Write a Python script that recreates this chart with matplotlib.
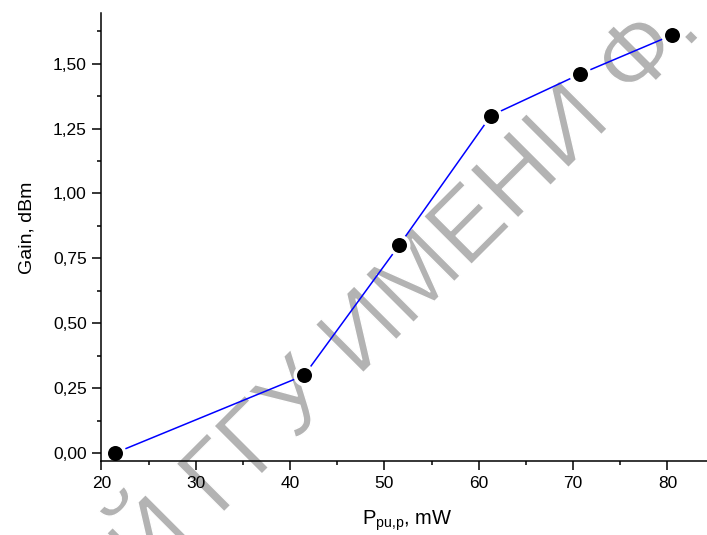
import matplotlib
matplotlib.use("Agg")
import matplotlib.pyplot as plt
import matplotlib.patheffects as pe
from matplotlib.ticker import MultipleLocator, FuncFormatter

plt.rcParams['font.family'] = ['Liberation Sans', 'DejaVu Sans']
plt.rcParams['mathtext.fontset'] = 'custom'
plt.rcParams['mathtext.rm'] = 'Liberation Sans'
plt.rcParams['mathtext.it'] = 'Liberation Sans:italic'

# Data
power_mw = [21.4, 41.5, 51.55, 61.3, 70.75, 80.5]
gain_dbm = [0.00, 0.30, 0.80, 1.30, 1.46, 1.61]

x_label = r'P$_{\mathrm{pu{,}p}}$, mW'
y_label = 'Gain, dBm'
watermark = 'РЕПОЗИТОРИЙ ГГУ ИМЕНИ Ф.'

W, H = 707, 535
fig = plt.figure(figsize=(W / 100, H / 100), dpi=100)
fig.patch.set_facecolor('white')
ax = fig.add_axes([101.4 / W, 1 - 461 / H, (707 - 101.4) / W, (461 - 13) / H])
ax.patch.set_visible(False)

# watermark behind everything
fig.text(705 / W, 1 - 31 / H, watermark, fontsize=71, color='#b3b3b3',
         rotation=45, rotation_mode='anchor', ha='right', va='baseline',
         zorder=-5, family=['Liberation Sans', 'DejaVu Sans'],
         path_effects=[pe.Normal(), pe.Stroke(linewidth=1.0, foreground='white')])

ax.plot(power_mw, gain_dbm, color='#0000ff', lw=1.1, zorder=2)
ax.plot(power_mw, gain_dbm, ls='none', marker='o', ms=15.8, mfc='white',
        mec='none', zorder=3, clip_on=False)
ax.plot(power_mw, gain_dbm, ls='none', marker='o', ms=10.8, mfc='black',
        mec='none', zorder=4, clip_on=False)

ax.set_xlim(20, 84.2)
ax.set_ylim(-0.03, 1.695)

for s in ['top', 'right']:
    ax.spines[s].set_visible(False)
for s in ['left', 'bottom']:
    ax.spines[s].set_linewidth(1.1)
    ax.spines[s].set_zorder(5)

ax.xaxis.set_major_locator(MultipleLocator(10))
ax.xaxis.set_minor_locator(MultipleLocator(5))
ax.yaxis.set_major_locator(MultipleLocator(0.25))
ax.yaxis.set_minor_locator(MultipleLocator(0.125))
ax.yaxis.set_major_formatter(FuncFormatter(lambda v, p: f'{v:.2f}'.replace('.', ',')))

ax.tick_params(which='major', direction='out', length=6.5, width=1.1,
               labelsize=12.5, pad=4)
ax.tick_params(which='minor', direction='out', length=3, width=1.1)

ax.set_xlabel(x_label, fontsize=14.5)
ax.set_ylabel(y_label, fontsize=14)
ax.xaxis.set_label_coords(0.505, -0.105)
ax.yaxis.set_label_coords(-0.108, 0.52)

fig.savefig('out.png', dpi=100)
